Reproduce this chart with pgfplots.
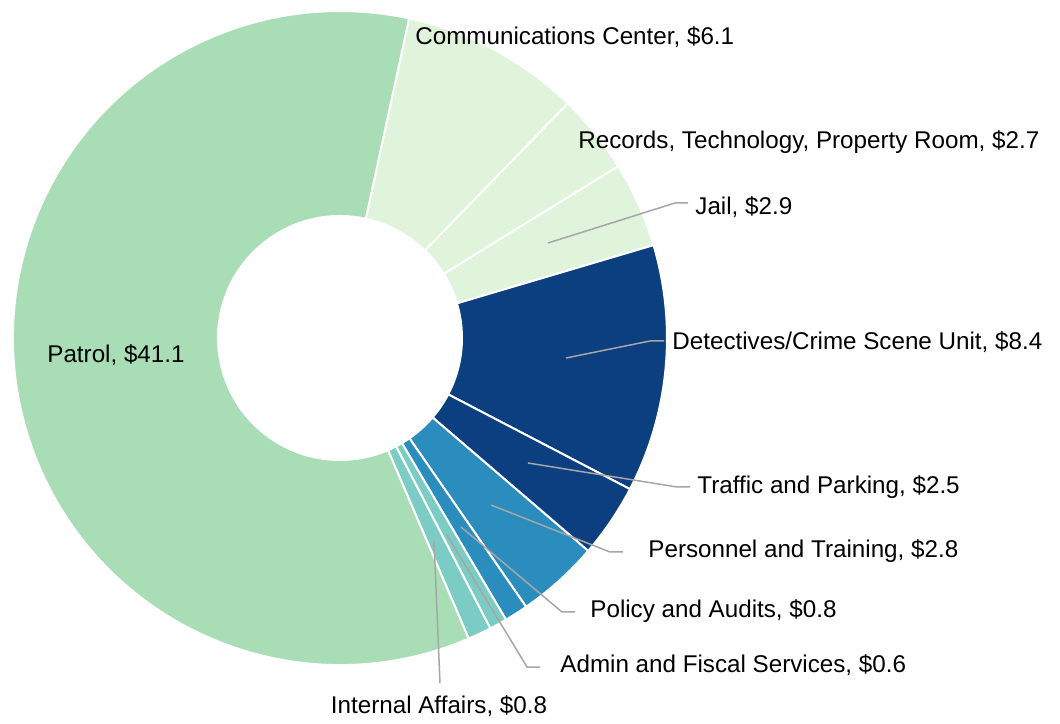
\documentclass[border=0pt]{standalone}
\usepackage{fontspec}
\setmainfont{Liberation Sans}
\usepackage{pgfplots}
\usepackage{pgfplotstable}
\pgfplotsset{compat=1.18}
\usetikzlibrary{calc}

\definecolor{cPatrol}{HTML}{A8DDB5}
\definecolor{cLight}{HTML}{E0F3DB}
\definecolor{cDark}{HTML}{0B3F80}
\definecolor{cMid}{HTML}{2B8CBE}
\definecolor{cTeal}{HTML}{7BCCC4}
\definecolor{leader}{HTML}{A6A6A6}

% budget by unit, clockwise from the Patrol/Communications edge
\pgfplotstableread[col sep=semicolon]{
name;value;color
Communications Center;6.1;cLight
Records, Technology, Property Room;2.7;cLight
Jail;2.9;cLight
Detectives/Crime Scene Unit;8.4;cDark
Traffic and Parking;2.5;cDark
Personnel and Training;2.8;cMid
Policy and Audits;0.8;cMid
Admin and Fiscal Services;0.6;cTeal
Internal Affairs;0.8;cTeal
Patrol;41.1;cPatrol
}\slices

\def\startang{77.8}
\def\rout{163.5pt}
\def\rin{61pt}

\begin{document}
\begin{tikzpicture}
\begin{axis}[x=0.5pt,y=0.5pt,xmin=0,xmax=1060,ymin=0,ymax=723,
  hide axis,clip=false]
\pgfplotsextra{%
  \coordinate (bl) at (axis cs:0,0);%
  \coordinate (tr) at (axis cs:1060,723);%
  \coordinate (ctr) at (axis cs:340,385);%
  \pgfplotstablegetrowsof{\slices}%
  \pgfmathtruncatemacro\N{\pgfplotsretval-1}%
  \gdef\total{0}%
  \foreach \i in {0,...,\N}{%
    \pgfplotstablegetelem{\i}{value}\of{\slices}%
    \pgfmathsetmacro\t{\total+\pgfplotsretval}\xdef\total{\t}%
  }%
  \gdef\cum{0}%
  \foreach \i in {0,...,\N}{%
    \pgfplotstablegetelem{\i}{value}\of{\slices}\let\v\pgfplotsretval
    \pgfplotstablegetelem{\i}{color}\of{\slices}\let\c\pgfplotsretval
    \pgfmathsetmacro\aa{\startang-\cum/\total*360}%
    \pgfmathsetmacro\ab{\startang-(\cum+\v)/\total*360}%
    \filldraw[fill=\c,draw=white,line width=1pt,line join=round]
      ($(ctr)+(\aa:\rin)$) -- ($(ctr)+(\aa:\rout)$)
      arc[start angle=\aa,end angle=\ab,radius=\rout]
      -- ($(ctr)+(\ab:\rin)$)
      arc[start angle=\ab,end angle=\aa,radius=\rin] -- cycle;
    \pgfmathsetmacro\t{\cum+\v}\xdef\cum{\t}%
  }%
}
% leader lines
\draw[leader,line width=0.75pt] (axis cs:548,480) -- (axis cs:675,520) -- (axis cs:688,520);
\draw[leader,line width=0.75pt] (axis cs:566,365) -- (axis cs:650,382) -- (axis cs:664,382);
\draw[leader,line width=0.75pt] (axis cs:528,260) -- (axis cs:677,236) -- (axis cs:690,236);
\draw[leader,line width=0.75pt] (axis cs:491,218) -- (axis cs:610,171) -- (axis cs:623,171);
\draw[leader,line width=0.75pt] (axis cs:461,196) -- (axis cs:562,111) -- (axis cs:575,111);
\draw[leader,line width=0.75pt] (axis cs:447,188) -- (axis cs:527,56) -- (axis cs:540,56);
\draw[leader,line width=0.75pt] (axis cs:434,182) -- (axis cs:440,40);
% labels
\tikzset{lab/.style={inner sep=0pt,font=\fontsize{12.1}{14}\selectfont}}
\node[lab,anchor=west] at (axis cs:415,686) {Communications Center, \$6.1};
\node[lab,anchor=west] at (axis cs:578,581) {Records, Technology, Property Room, \$2.7};
\node[lab,anchor=west] at (axis cs:695,516) {Jail, \$2.9};
\node[lab,anchor=west] at (axis cs:672,381) {Detectives/Crime Scene Unit, \$8.4};
\node[lab,anchor=west] at (axis cs:697,236) {Traffic and Parking, \$2.5};
\node[lab,anchor=west] at (axis cs:648,172) {Personnel and Training, \$2.8};
\node[lab,anchor=west] at (axis cs:590,112) {Policy and Audits, \$0.8};
\node[lab,anchor=west] at (axis cs:560,58) {Admin and Fiscal Services, \$0.6};
\node[lab] at (axis cs:439,17) {Internal Affairs, \$0.8};
\node[lab] at (axis cs:116,368) {Patrol, \$41.1};
\end{axis}
\pgfresetboundingbox
\path (bl) rectangle (tr);
\end{tikzpicture}
\end{document}
